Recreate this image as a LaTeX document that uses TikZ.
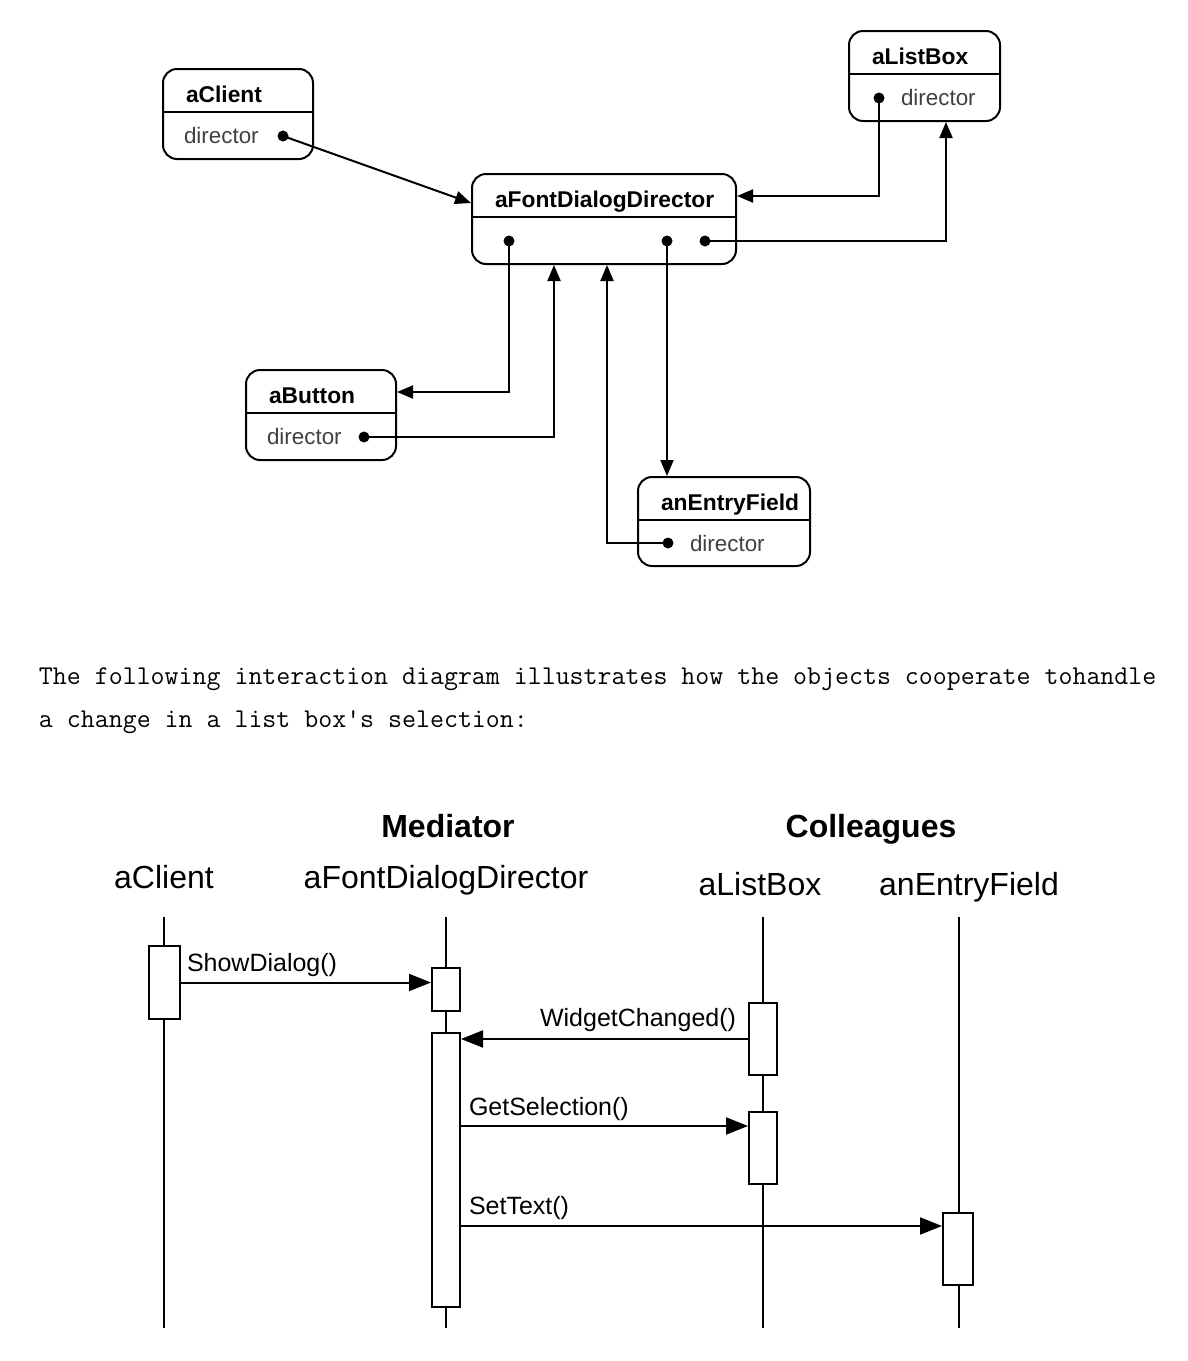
\documentclass[tikz,border=0pt]{standalone}
\usepackage{fontspec}
\setmainfont{Liberation Sans}
\usetikzlibrary{arrows.meta,calc}
\begin{document}
\begin{tikzpicture}[x=0.5pt,y=-0.5pt,line width=1pt,
  obj/.style={draw, rounded corners=7pt, inner sep=0pt, line width=1pt},
  oname/.style={font=\bfseries\fontsize{11.4}{13}\selectfont, anchor=base west, inner sep=0pt},
  oattr/.style={font=\fontsize{11.2}{13}\selectfont, text=black!75, anchor=base west, inner sep=0pt},
  odot/.style={circle, fill=black, inner sep=0pt, minimum size=5.5pt},
  ref/.style={-{Triangle[length=8pt,width=6.5pt]}, line width=1pt},
  mono/.style={font=\ttfamily\fontsize{13.56}{16}\selectfont, anchor=base west, inner sep=0pt},
  head/.style={font=\bfseries\fontsize{16}{19}\selectfont, anchor=base, inner sep=0pt},
  lname/.style={font=\fontsize{16}{19}\selectfont, anchor=base, inner sep=0pt},
  act/.style={draw, fill=white, inner sep=0pt, line width=1pt},
  msg/.style={-{Triangle[length=11pt,width=8.5pt]}, line width=1pt},
  mlabel/.style={font=\fontsize{12.5}{14}\selectfont, inner sep=0pt}
]
\useasboundingbox (0,0) rectangle (1188,1361);

% ---------- object diagram ----------
\node[obj, minimum width=75pt, minimum height=45pt] (client) at (238,114) {};
\draw (client.north west) ++(0,44) coordinate (cs1) -- (cs1 -| client.east);
\node[oname] (clientN) at (185,102) {aClient};
\node[oattr] (clientA) at (183,143) {director};
\node[odot] (clientD) at (283,136) {};

\node[obj, minimum width=75.5pt, minimum height=45pt] (list) at (924.5,76) {};
\draw (list.north west) ++(0,44) coordinate (ls1) -- (ls1 -| list.east);
\node[oname] (listN) at (871,64) {aListBox};
\node[oattr] (listA) at (900,105) {director};
\node[odot] (listD) at (879,98) {};

\node[obj, minimum width=132pt, minimum height=45pt] (dir) at (604,219) {};
\draw (dir.north west) ++(0,44) coordinate (ds1) -- (ds1 -| dir.east);
\node[oname] (dirN) at (494,207) {aFontDialogDirector};
\node[odot] (dirD1) at (509,241) {};
\node[odot] (dirD2) at (667,241) {};
\node[odot] (dirD3) at (705,241) {};

\node[obj, minimum width=75pt, minimum height=45pt] (button) at (321,415) {};
\draw (button.north west) ++(0,44) coordinate (bs1) -- (bs1 -| button.east);
\node[oname] (buttonN) at (268,403) {aButton};
\node[oattr] (buttonA) at (266,444) {director};
\node[odot] (buttonD) at (364,437) {};

\node[obj, minimum width=86pt, minimum height=44.5pt] (entry) at (724,521.5) {};
\draw (entry.north west) ++(0,44) coordinate (es1) -- (es1 -| entry.east);
\node[oname] (entryN) at (660,510) {anEntryField};
\node[oattr] (entryA) at (689,551) {director};
\node[odot] (entryD) at (668,543) {};

% connectors
\draw[ref] (clientD.center) -- ($(dir.west)+(0,-16)$);
\draw[ref] (listD.center) |- ($(dir.east)+(0,-23)$);
\draw[ref] (dirD3.center) -| ($(list.south)+(21.5,0)$);
\draw[ref] (dirD1.center) |- ($(button.east)+(0,-23)$);
\draw[ref] (buttonD.center) -| ($(dir.south)+(-50,0)$);
\draw[ref] (dirD2.center) -- (dirD2.center |- entry.north);
\draw[ref] (entryD.center) -| ($(dir.south)+(3,0)$);

% ---------- text ----------
\node[mono] (t1) at (38,684) {The following interaction diagram illustrates how the objects cooperate tohandle};
\node[mono] (t2) at (38,727) {a change in a list box's selection:};

% ---------- interaction diagram ----------
\node[head] (hMed) at (448,837) {Mediator};
\node[head] (hCol) at (871,837) {Colleagues};
\node[lname] (nClient) at (164,888) {aClient};
\node[lname] (nDir) at (446,888) {aFontDialogDirector};
\node[lname] (nList) at (760,895) {aListBox};
\node[lname] (nEntry) at (969,895) {anEntryField};

\coordinate (c1) at (164,917); \coordinate (c2) at (164,1328);
\coordinate (d1) at (446,917); \coordinate (d2) at (446,1328);
\coordinate (l1) at (763,917); \coordinate (l2) at (763,1328);
\coordinate (e1) at (959,917); \coordinate (e2) at (959,1328);
\draw (c1) -- (c2);
\draw (d1) -- (d2);
\draw (l1) -- (l2);
\draw (e1) -- (e2);

\node[act, minimum width=15.5pt, minimum height=36.5pt] (aC) at (164.5,982.5) {};
\node[act, minimum width=14pt, minimum height=21.5pt] (aD1) at (446,989.5) {};
\node[act, minimum width=14pt, minimum height=137pt] (aD2) at (446,1170) {};
\node[act, minimum width=14pt, minimum height=36pt] (aL1) at (763,1039) {};
\node[act, minimum width=14pt, minimum height=36pt] (aL2) at (763,1148) {};
\node[act, minimum width=15pt, minimum height=36pt] (aE) at (958,1249) {};

\draw[msg] (aC.east) -- (aC.east -| aD1.west);
\node[mlabel, anchor=base west] (mShow) at (186,971) {ShowDialog()};

\draw[msg] (aL1.west) -- (aL1.west -| aD2.east);
\node[mlabel, anchor=base east] (mWidget) at (737,1026) {WidgetChanged()};

\coordinate (gs) at ($(aL2.west)+(0,-22)$);
\draw[msg] (gs -| aD2.east) -- (gs);
\node[mlabel, anchor=base west] (mGet) at (468,1115) {GetSelection()};

\coordinate (st) at ($(aE.west)+(0,-23)$);
\draw[msg] (st -| aD2.east) -- (st);
\node[mlabel, anchor=base west] (mSet) at (468,1214) {SetText()};
\end{tikzpicture}
\end{document}
